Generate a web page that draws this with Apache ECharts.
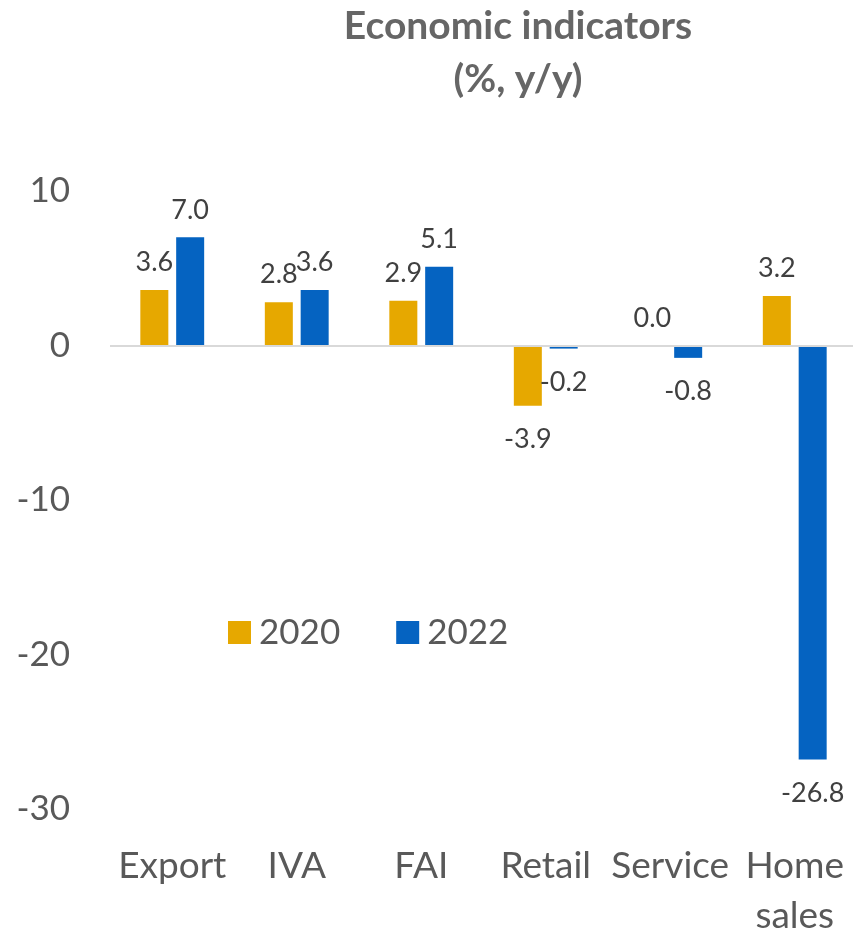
<!DOCTYPE html>
<html>
<head>
<meta charset="utf-8">
<title>Economic indicators</title>
<script src="https://cdn.jsdelivr.net/npm/echarts@6/dist/echarts.min.js"></script>
<style>
    html, body { margin: 0; padding: 0; background: #fff; }
    #chart { width: 853px; height: 935px; }
</style>
</head>
<body>
<div id="chart"></div>
<script>
// data
var categories = ['Export', 'IVA', 'FAI', 'Retail', 'Service', 'Home sales'];
var seriesNames = ['2020', '2022'];
var values2020 = [3.6, 2.8, 2.9, -3.9, 0.0, 3.2];
var values2022 = [7.0, 3.6, 5.1, -0.2, -0.8, -26.8];
var yTicks = { min: -30, max: 10, interval: 10 };

var colors = ['#E6A800', '#0563C1'];
var font = 'Lato, "Open Sans", sans-serif';

// positive labels sit on top of the bar, negative below it
function withLabels(vals) {
    return vals.map(function (v) {
        return {
            value: v,
            label: {
                position: v < 0 ? 'bottom' : 'top',
                distance: v < 0 ? 20 : 14
            }
        };
    });
}

function barSeries(name, vals, color, withZeroLine) {
    var s = {
        name: name,
        type: 'bar',
        barWidth: 28,
        barGap: '28%',
        itemStyle: { color: color },
        label: {
            show: true,
            fontFamily: font,
            fontSize: 27,
            color: '#404040',
            formatter: function (p) { return p.value.toFixed(1); }
        },
        data: withLabels(vals)
    };
    if (withZeroLine) {
        s.markLine = {
            silent: true,
            symbol: 'none',
            label: { show: false },
            lineStyle: { color: '#d9d9d9', width: 2, type: 'solid' },
            data: [{ yAxis: 0 }]
        };
    }
    return s;
}

var chart = echarts.init(document.getElementById('chart'));
var option = {
    animation: false,
    title: {
        text: 'Economic indicators\n(%, y/y)',
        left: 513,
        top: -5,
        textAlign: 'center',
        textStyle: {
            fontFamily: font,
            fontWeight: 'bold',
            fontSize: 39,
            lineHeight: 53,
            color: '#666666'
        }
    },
    legend: {
        data: seriesNames,
        left: 223,
        top: 610,
        icon: 'rect',
        itemWidth: 23,
        itemHeight: 23,
        itemGap: 56,
        textStyle: {
            fontFamily: font,
            fontSize: 35,
            color: '#595959',
            padding: [0, 0, 0, 3]
        }
    },
    grid: {
        left: 110,
        right: -4,
        top: 191,
        bottom: 126,
        containLabel: false,
        outerBoundsMode: 'none'
    },
    xAxis: {
        type: 'category',
        data: categories,
        axisLine: { show: false, onZero: false },
        axisTick: { show: false },
        splitLine: { show: false },
        axisLabel: {
            interval: 0,
            margin: 32,
            fontFamily: font,
            fontSize: 37,
            lineHeight: 50,
            color: '#595959',
            formatter: function (v) { return v.replace(' ', '\n'); }
        }
    },
    yAxis: {
        type: 'value',
        min: yTicks.min,
        max: yTicks.max,
        interval: yTicks.interval,
        axisLine: { show: false },
        axisTick: { show: false },
        splitLine: { show: false },
        axisLabel: {
            margin: 40,
            fontFamily: font,
            fontSize: 35,
            color: '#595959'
        }
    },
    series: [
        barSeries(seriesNames[0], values2020, colors[0], true),
        barSeries(seriesNames[1], values2022, colors[1], false)
    ]
};
chart.setOption(option);
</script>
</body>
</html>
